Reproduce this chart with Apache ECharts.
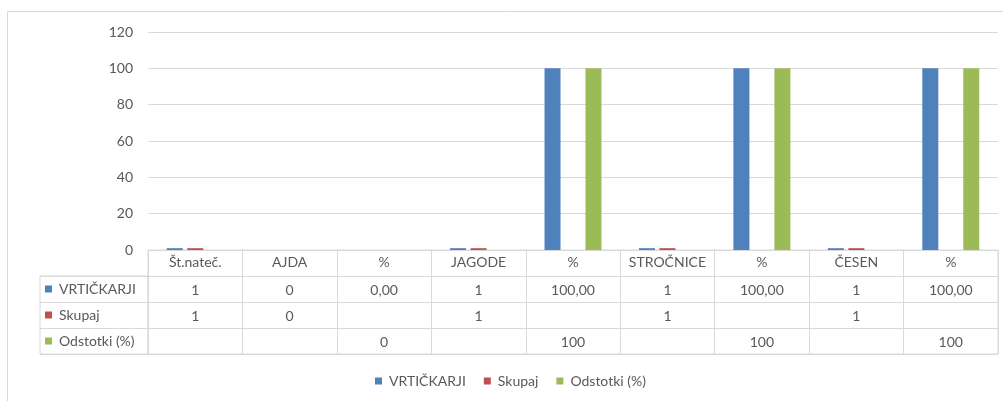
<!DOCTYPE html>
<html>
<head>
<meta charset="utf-8">
<script src="https://cdn.jsdelivr.net/npm/echarts@6/dist/echarts.min.js"></script>
<style>
  html, body { margin: 0; padding: 0; background: #ffffff; }
  #chart { width: 1003px; height: 401px; }
</style>
</head>
<body>
<div id="chart"></div>
<script>
// Categories along the horizontal axis (also the header row of the data table)
const categories = ['Št.nateč.', 'AJDA', '%', 'JAGODE', '%', 'STROČNICE', '%', 'ČESEN', '%'];
const seriesNames = ['VRTIČKARJI', 'Skupaj', 'Odstotki (%)'];

// Series values (null = empty cell)
const vrtickarji = [1, 0, 0, 1, 100, 1, 100, 1, 100];
const skupaj     = [1, 0, null, 1, null, 1, null, 1, null];
const odstotki   = [null, null, 0, null, 100, null, 100, null, 100];

// Value axis ticks
const yMin = 0, yMax = 120, yStep = 20;

const colors = ['#4f81bd', '#c0504d', '#9bbb59'];
const textColor = '#595959';
const lineColor = '#d9d9d9';
const font = 'Lato';

// Number formatting with a decimal comma
function fmt(v, decimals) {
  if (v === null || v === undefined) return '';
  return v.toFixed(decimals).replace('.', ',');
}

// Text of every data-table cell: [column, row, text]
const seriesValues = [vrtickarji, skupaj, odstotki];
const cells = [];
seriesValues.forEach((vals, r) => {
  vals.forEach((v, c) => {
    const decimals = (r === 0 && categories[c] === '%') ? 2 : 0;
    cells.push({ value: [c, r + 1], text: fmt(v, decimals) });
  });
});

const chart = echarts.init(document.getElementById('chart'), null, { renderer: 'canvas' });

const option = {
  animation: false,
  color: colors,
  textStyle: { fontFamily: font },
  graphic: [{
    type: 'rect',
    shape: { x: 7.5, y: 11.5, width: 1010, height: 400 },
    style: { fill: 'none', stroke: lineColor, lineWidth: 1 },
    silent: true
  }],
  legend: {
    data: seriesNames,
    icon: 'rect',
    itemWidth: 7,
    itemHeight: 7,
    itemGap: 18,
    padding: 0,
    left: 375,
    top: 374,
    textStyle: { color: textColor, fontSize: 14, fontFamily: font, padding: [0, 0, 0, 2] }
  },
  grid: [
    // plot area
    { left: 148, right: 5, top: 32, height: 218 },
    // data table body (header + three rows)
    { left: 148, right: 5, top: 250, height: 104, show: true, borderColor: lineColor, borderWidth: 1 },
    // row-title column of the data table
    { left: 40, width: 108, top: 276, height: 78, show: true, borderColor: lineColor, borderWidth: 1 }
  ],
  xAxis: [
    {
      gridIndex: 0,
      type: 'category',
      data: categories,
      axisLine: { show: false },
      axisTick: { show: false },
      axisLabel: { color: textColor, fontSize: 14, fontFamily: font, margin: 5, interval: 0 }
    },
    {
      gridIndex: 1,
      type: 'category',
      data: categories,
      axisLine: { show: false },
      axisTick: { show: false },
      axisLabel: { show: false },
      splitLine: { show: true, interval: 0, lineStyle: { color: lineColor, width: 1 } }
    },
    { gridIndex: 2, type: 'value', show: false }
  ],
  yAxis: [
    {
      gridIndex: 0,
      type: 'value',
      min: yMin,
      max: yMax,
      interval: yStep,
      axisLine: { show: false },
      axisTick: { show: false },
      axisLabel: { color: textColor, fontSize: 14, fontFamily: font, margin: 15 },
      splitLine: { lineStyle: { color: lineColor, width: 1 } }
    },
    {
      gridIndex: 1,
      type: 'category',
      inverse: true,
      data: [''].concat(seriesNames),
      axisLine: { show: false },
      axisTick: { show: false },
      axisLabel: { show: false },
      splitLine: { show: true, interval: 0, lineStyle: { color: lineColor, width: 1 } }
    },
    {
      gridIndex: 2,
      type: 'category',
      inverse: true,
      data: seriesNames,
      axisLine: { show: false },
      axisTick: { show: false },
      splitLine: { show: true, interval: 0, lineStyle: { color: lineColor, width: 1 } },
      axisLabel: {
        inside: true,
        margin: 5,
        interval: 0,
        formatter: (v, i) => '{k' + i + '|}{t|' + v + '}',
        rich: {
          k0: { width: 7, height: 7, backgroundColor: colors[0] },
          k1: { width: 7, height: 7, backgroundColor: colors[1] },
          k2: { width: 7, height: 7, backgroundColor: colors[2] },
          t: { color: textColor, fontSize: 14, fontFamily: font, padding: [0, 0, 0, 7] }
        }
      }
    }
  ],
  series: [
    {
      name: seriesNames[0], type: 'bar', data: vrtickarji,
      xAxisIndex: 0, yAxisIndex: 0, barWidth: 16, barGap: '28%'
    },
    {
      name: seriesNames[1], type: 'bar', data: skupaj,
      xAxisIndex: 0, yAxisIndex: 0, barWidth: 16, barGap: '28%'
    },
    {
      name: seriesNames[2], type: 'bar', data: odstotki,
      xAxisIndex: 0, yAxisIndex: 0, barWidth: 16, barGap: '28%'
    },
    {
      // cell texts of the data table
      type: 'custom',
      xAxisIndex: 1,
      yAxisIndex: 1,
      silent: true,
      data: cells.map(c => c.value),
      renderItem: (params, api) => {
        const p = api.coord([api.value(0), api.value(1)]);
        return {
          type: 'text',
          x: p[0],
          y: p[1] + 1,
          style: {
            text: cells[params.dataIndex].text,
            fill: textColor,
            fontSize: 14,
            fontFamily: font,
            align: 'center',
            verticalAlign: 'middle'
          }
        };
      }
    }
  ]
};

chart.setOption(option);
</script>
</body>
</html>
